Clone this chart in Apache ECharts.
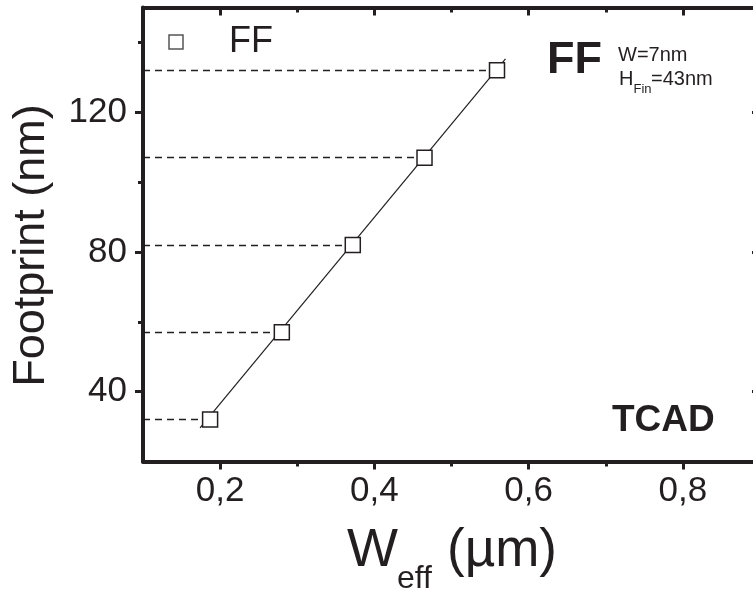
<!DOCTYPE html>
<html>
<head>
<meta charset="utf-8">
<script src="https://cdn.jsdelivr.net/npm/echarts@6/dist/echarts.min.js"></script>
<style>
html,body{margin:0;padding:0;background:#fff;}
#c{width:753px;height:594px;}
</style>
</head>
<body>
<div id="c"></div>
<script>
// ---- data ----
var weff = [0.187, 0.280, 0.372, 0.465, 0.559];      // W_eff (µm)
var footprint = [32, 57, 82, 107, 132];               // Footprint (nm)
var fitX = [0.174, 0.570];                            // guide line ends (µm)
var fitY = [29.6, 135.3];                             // guide line ends (nm)
var xMajor = [0.2, 0.4, 0.6, 0.8];
var xMinor = [0.3, 0.5, 0.7];
var yMajor = [40, 80, 120];
var yMinor = [60, 100, 140];
var xMin = 0.1, xMax = 0.9, yMin = 20, yMax = 150;
var seriesName = 'FF';

var INK = '#231f20';
var FONT = '"Liberation Sans", Arial, Helvetica, sans-serif';

var pts = weff.map(function (x, i) { return [x, footprint[i]]; });
var fitPts = fitX.map(function (x, i) { return [x, fitY[i]]; });

function xAx(pos, vals, len, showLine, showLabel, inside) {
  return {
    type: 'value', position: pos, min: xMin, max: xMax, gridIndex: 0,
    splitLine: { show: false },
    axisLine: { show: showLine, onZero: false, lineStyle: { color: INK, width: 4 } },
    axisTick: { show: true, inside: inside, customValues: vals, length: len, lineStyle: { color: INK, width: 3 } },
    axisLabel: {
      show: showLabel, customValues: vals, margin: 12,
      fontSize: 35, color: INK, fontFamily: FONT,
      formatter: function (v) { return v.toFixed(1).replace('.', ','); }
    }
  };
}
function yAx(pos, vals, len, showLine, showLabel, inside) {
  return {
    type: 'value', position: pos, min: yMin, max: yMax, gridIndex: 0,
    splitLine: { show: false },
    axisLine: { show: showLine, onZero: false, lineStyle: { color: INK, width: 4 } },
    axisTick: { show: true, inside: inside, customValues: vals, length: len, lineStyle: { color: INK, width: 3 } },
    axisLabel: {
      show: showLabel, customValues: vals, margin: 16,
      fontSize: 35, color: INK, fontFamily: FONT
    }
  };
}

var chart = echarts.init(document.getElementById('c'), null, { renderer: 'canvas' });
chart.setOption({
  backgroundColor: '#fff',
  animation: false,
  grid: { left: 143, top: 7.5, width: 617, height: 454, containLabel: false, outerBoundsMode: 'none' },
  xAxis: [
    xAx('bottom', xMajor, 8, true, true, false),
    xAx('bottom', xMinor, 5, false, false, false),
    xAx('top', xMajor, 8, true, false, true),
    xAx('top', xMinor, 5, false, false, true)
  ],
  yAxis: [
    yAx('left', yMajor, 8, true, true, false),
    yAx('left', yMinor, 5, false, false, false),
    yAx('right', yMajor, 8, true, false, true),
    yAx('right', yMinor, 5, false, false, true)
  ],
  series: [
    {
      type: 'line', name: 'fit', data: fitPts, xAxisIndex: 0, yAxisIndex: 0,
      symbol: 'none', silent: true, z: 2,
      lineStyle: { color: INK, width: 1.2 }
    },
    {
      type: 'scatter', name: seriesName, data: pts, xAxisIndex: 0, yAxisIndex: 0,
      symbol: 'rect', symbolSize: 15, z: 5,
      itemStyle: { color: '#fff', borderColor: INK, borderWidth: 1.5, opacity: 1 },
      markLine: {
        silent: true, symbol: 'none', animation: false,
        label: { show: false },
        lineStyle: { color: INK, width: 1.3, type: [7, 5] },
        data: pts.map(function (p) { return [{ coord: [xMin, p[1]] }, { coord: [p[0], p[1]] }]; })
      }
    }
  ],
  graphic: [
    // legend
    { type: 'rect', shape: { x: 169, y: 35, width: 14, height: 14 },
      style: { fill: '#fff', stroke: '#555', lineWidth: 1.5 } },
    { type: 'text', x: 229, y: 42, style: { text: seriesName, font: '36px ' + FONT, fill: INK, verticalAlign: 'middle', align: 'left' } },
    // annotation FF W=7nm H_Fin=43nm
    { type: 'text', x: 547, y: 60.5, style: { text: 'FF', font: 'bold 45px ' + FONT, fill: INK, verticalAlign: 'middle', align: 'left' } },
    { type: 'text', x: 618, y: 55.5, style: { text: 'W=7nm', font: '20px ' + FONT, fill: INK, verticalAlign: 'middle', align: 'left' } },
    { type: 'text', x: 619, y: 79.5, style: { text: 'H', font: '20px ' + FONT, fill: INK, verticalAlign: 'middle', align: 'left' } },
    { type: 'text', x: 633.5, y: 89, style: { text: 'Fin', font: '13px ' + FONT, fill: INK, verticalAlign: 'middle', align: 'left' } },
    { type: 'text', x: 651, y: 79.5, style: { text: '=43nm', font: '20px ' + FONT, fill: INK, verticalAlign: 'middle', align: 'left' } },
    // TCAD
    { type: 'text', x: 612, y: 420.5, style: { text: 'TCAD', font: 'bold 37px ' + FONT, fill: INK, verticalAlign: 'middle', align: 'left' } },
    // x axis title
    { type: 'text', x: 347, y: 551, style: { text: 'W', font: '54px ' + FONT, fill: INK, verticalAlign: 'middle', align: 'left' } },
    { type: 'text', x: 397, y: 579, style: { text: 'eff', font: '32px ' + FONT, fill: INK, verticalAlign: 'middle', align: 'left' } },
    { type: 'text', x: 447, y: 551.5, style: { text: '(µm)', font: '53px ' + FONT, fill: INK, verticalAlign: 'middle', align: 'left' } },
    // y axis title
    { type: 'text', x: 31.5, y: 245.5, rotation: Math.PI / 2,
      style: { text: 'Footprint (nm)', font: '45px ' + FONT, fill: INK, verticalAlign: 'middle', align: 'center' } }
  ]
});
</script>
</body>
</html>
